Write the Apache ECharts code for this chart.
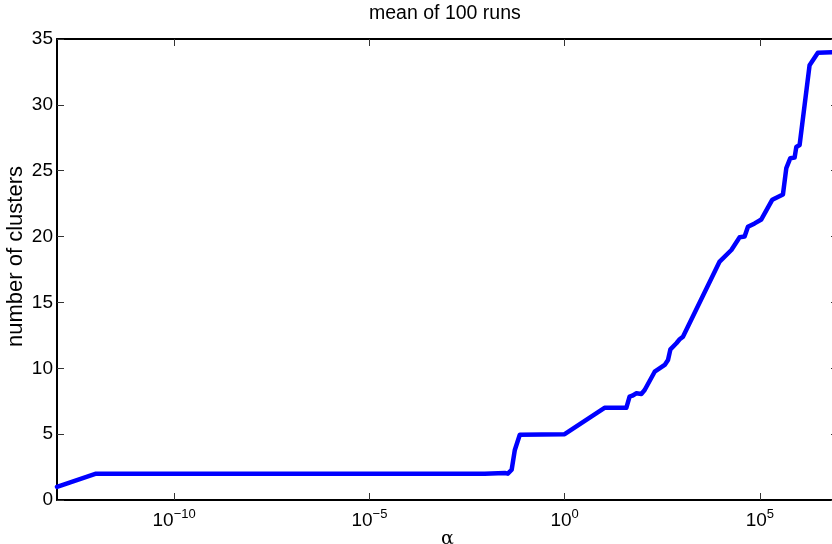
<!DOCTYPE html>
<html>
<head>
<meta charset="utf-8">
<title>mean of 100 runs</title>
<script src="https://cdn.jsdelivr.net/npm/echarts@6/dist/echarts.min.js"></script>
<style>
  html, body { margin: 0; padding: 0; background: #fff; }
  #chart { width: 832px; height: 544px; }
</style>
</head>
<body>
<div id="chart"></div>
<script>
// concentration parameter alpha (log scale) and mean cluster count
const alphaValues = [
  1e-13, 1e-12, 8.9e-3, 2.95e-2, 3.5e-2, 4.4e-2, 5.3e-2, 5.8e-2, 7.1e-2, 1,
  10.5, 38, 46, 54, 69, 92, 112, 202, 365, 443, 511, 726, 883, 1070,
  9310, 18600, 30300, 40600, 49400, 73300, 108900, 208000, 389000, 475000,
  601000, 774000, 855000, 1.04e6, 1.87e6, 3.05e6, 1e7
];
const meanClusters = [
  1.0, 2.0, 2.0, 2.05, 2.0, 2.3, 3.8, 3.95, 4.95, 5.0,
  7.0, 7.0, 7.85, 7.92, 8.1, 8.05, 8.35, 9.74, 10.25, 10.63, 11.44, 11.9, 12.2, 12.4,
  18.1, 18.98, 19.95, 20.0, 20.75, 21.0, 21.3, 22.8, 23.2, 25.2,
  25.95, 26.0, 26.8, 26.95, 33.0, 33.96, 34.0
];
const xTickValues = [1e-10, 1e-5, 1, 1e5];
const yTicks = [0, 5, 10, 15, 20, 25, 30, 35];

const titleText = 'mean of 100 runs';
const xLabelText = 'α';
const yLabelText = 'number of clusters';

const FONT = '"Liberation Sans", Arial, Helvetica, sans-serif';

function powerLabel(v) {
  const e = Math.round(Math.log10(v));
  const exp = e < 0 ? '\u2212' + Math.abs(e) : String(e);
  return '{b|10}{e|' + exp + '}';
}

const chart = echarts.init(document.getElementById('chart'), null, { renderer: 'canvas' });

const tickStyle = { show: true, inside: true, length: 7, lineStyle: { color: '#333', width: 1 } };
const axisLine = { show: true, onZero: false, lineStyle: { color: '#000', width: 2 } };

chart.setOption({
  animation: false,
  backgroundColor: '#fff',
  title: {
    text: titleText,
    left: 369,
    top: 4,
    padding: 0,
    textStyle: { fontFamily: FONT, fontSize: 19.5, fontWeight: 'normal', color: '#000' }
  },
  grid: { left: 57, top: 39, width: 781, height: 461, containLabel: false, outerBoundsMode: 'none' },
  xAxis: [
    {
      type: 'log',
      logBase: 10,
      min: 1e-13,
      max: 1e7,
      position: 'bottom',
      axisLine: axisLine,
      axisTick: Object.assign({ customValues: xTickValues }, tickStyle),
      splitLine: { show: false },
      minorTick: { show: false },
      axisLabel: {
        customValues: xTickValues,
        margin: 8,
        formatter: powerLabel,
        rich: {
          b: { fontFamily: FONT, fontSize: 19, color: '#000', verticalAlign: 'bottom', lineHeight: 22 },
          e: { fontFamily: FONT, fontSize: 13, color: '#000', verticalAlign: 'top', lineHeight: 13, padding: [0, 0, 16, 0] }
        }
      },
      name: xLabelText,
      nameLocation: 'middle',
      nameGap: 30,
      nameMoveOverlap: false,
      nameTextStyle: { fontFamily: '"DejaVu Serif", "Liberation Serif", serif', fontSize: 19, color: '#000' }
    },
    {
      type: 'log',
      logBase: 10,
      min: 1e-13,
      max: 1e7,
      position: 'top',
      axisLine: axisLine,
      axisTick: Object.assign({ customValues: xTickValues }, tickStyle),
      axisLabel: { show: false },
      splitLine: { show: false }
    }
  ],
  yAxis: [
    {
      type: 'value',
      min: yTicks[0],
      max: yTicks[yTicks.length - 1],
      interval: 5,
      position: 'left',
      axisLine: axisLine,
      axisTick: tickStyle,
      splitLine: { show: false },
      axisLabel: { margin: 4, fontFamily: FONT, fontSize: 19, color: '#000' },
      name: yLabelText,
      nameLocation: 'middle',
      nameGap: 30,
      nameRotate: 90,
      nameMoveOverlap: false,
      nameTextStyle: { fontFamily: FONT, fontSize: 22, color: '#000', padding: [0, 0, 0, 26] }
    },
    {
      type: 'value',
      min: yTicks[0],
      max: yTicks[yTicks.length - 1],
      interval: 5,
      position: 'right',
      axisLine: axisLine,
      axisTick: tickStyle,
      axisLabel: { show: false },
      splitLine: { show: false }
    }
  ],
  series: [
    {
      type: 'line',
      xAxisIndex: 0,
      yAxisIndex: 0,
      data: alphaValues.map((a, i) => [a, meanClusters[i]]),
      showSymbol: false,
      symbol: 'none',
      lineStyle: { color: '#0000ff', width: 4.5, join: 'round', cap: 'round' },
      clip: true
    }
  ]
});
</script>
</body>
</html>
